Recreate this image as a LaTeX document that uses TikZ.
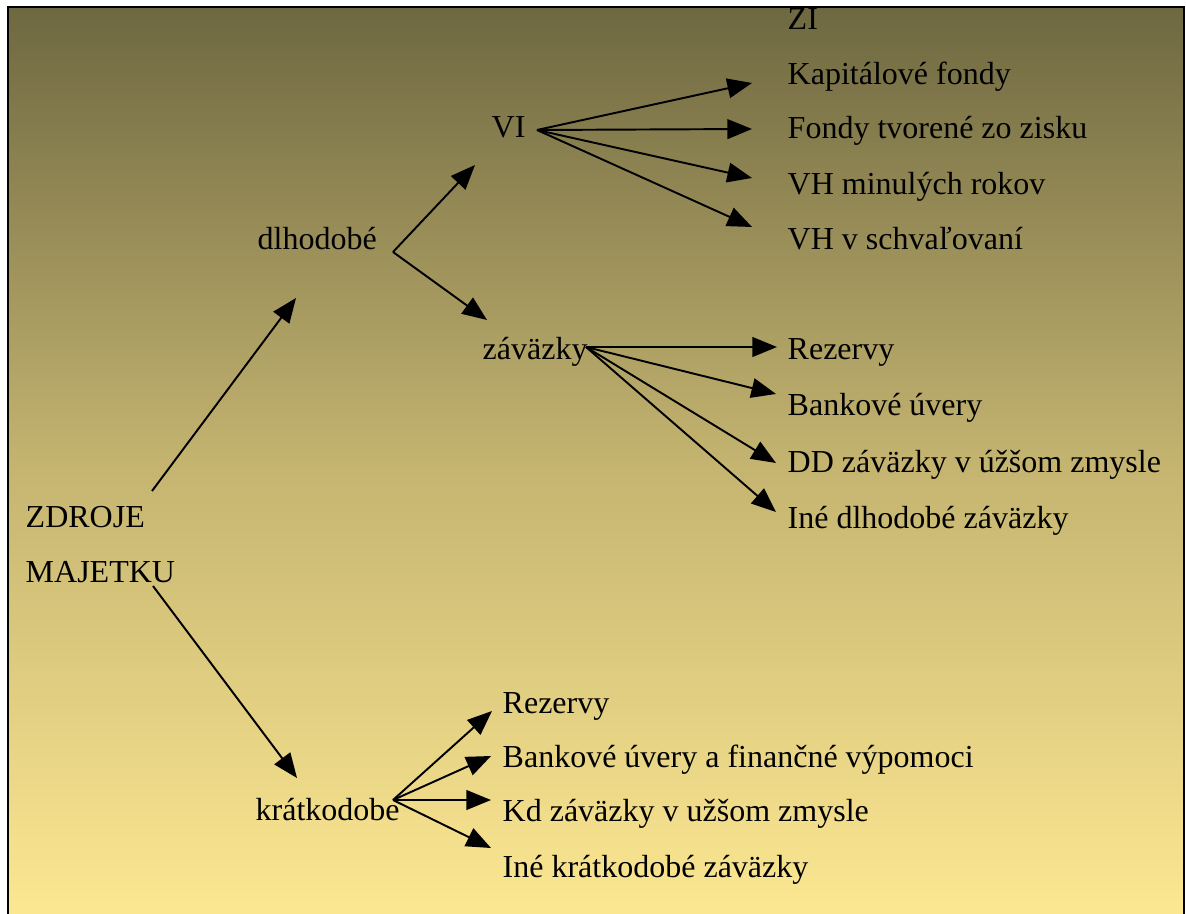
\documentclass[tikz,border=0pt]{standalone}
\usepackage{fontspec}
\setmainfont{Liberation Serif}
\usetikzlibrary{arrows.meta}
\definecolor{bgtop}{RGB}{110,104,65}
\definecolor{bgmid}{RGB}{196,180,112}
\definecolor{bgbot}{RGB}{253,232,146}
\tikzset{
  lbl/.style={anchor=base west, inner sep=0pt, font=\fontsize{9.1}{11}\selectfont},
  arr/.style={line width=0.55pt, -{Triangle[length=7pt,width=5.6pt]}},
}
\begin{document}
\begin{tikzpicture}[x=0.01cm,y=-0.01cm]
\useasboundingbox (0,0) rectangle (1186,913);
\fill[white] (0,0) rectangle (1186,913);
\begin{scope}
\clip (8,7) rectangle (1184,930);
\shade[top color=bgtop, bottom color=bgbot, middle color=bgmid] (8,7) rectangle (1184,920);
% nodes
\node[lbl] (zdroje) at (25,527) {ZDROJE};
\node[lbl] (majetku) at (25,582) {MAJETKU};
\node[lbl] (dlh) at (257,250) {dlhodobé};
\node[lbl] (kratk) at (255,820) {krátkodobe};
\node[lbl] (vi) at (491,138) {VI};
\node[lbl] (zav) at (482,360) {záväzky};
\node[lbl] (zi) at (787,30) {ZI};
\node[lbl] (kf) at (787,85) {Kapitálové fondy};
\node[lbl] (ftz) at (787,139) {Fondy tvorené zo zisku};
\node[lbl] (vhm) at (787,195) {VH minulých rokov};
\node[lbl] (vhs) at (787,250) {VH v schvaľovaní};
\node[lbl] (rez1) at (787,360) {Rezervy};
\node[lbl] (bu1) at (787,416) {Bankové úvery};
\node[lbl] (dd) at (787,472) {DD záväzky v úžšom zmysle};
\node[lbl] (ine1) at (787,528) {Iné dlhodobé záväzky};
\node[lbl] (rez2) at (502,713) {Rezervy};
\node[lbl] (bu2) at (502,767) {Bankové úvery a finančné výpomoci};
\node[lbl] (kd) at (502,821) {Kd záväzky v užšom zmysle};
\node[lbl] (ine2) at (502,877) {Iné krátkodobé záväzky};
% connector points
\coordinate (zdroje-o) at (152,491);
\coordinate (majetku-o) at (153,586);
\coordinate (dlh-i) at (296,298);
\coordinate (kratk-i) at (297,778);
\coordinate (dlh-o) at (393,252);
\coordinate (vi-i) at (475,165);
\coordinate (zav-i) at (487,320);
\coordinate (vi-o) at (537,130);
\coordinate (kf-i) at (752,83);
\coordinate (ftz-i) at (752,129);
\coordinate (vhm-i) at (752,178);
\coordinate (vhs-i) at (752,227);
\coordinate (zav-o) at (586,347);
\coordinate (rez1-i) at (777,347);
\coordinate (bu1-i) at (776,394);
\coordinate (dd-i) at (776,463);
\coordinate (ine1-i) at (776,512);
\coordinate (kratk-o) at (393,800);
\coordinate (rez2-i) at (492,711);
\coordinate (bu2-i) at (491,756);
\coordinate (kd-i) at (491,800);
\coordinate (ine2-i) at (491,848);
% connectors
\draw[arr] (zdroje-o) -- (dlh-i);
\draw[arr] (majetku-o) -- (kratk-i);
\draw[arr] (dlh-o) -- (vi-i);
\draw[arr] (dlh-o) -- (zav-i);
\foreach \t in {kf,ftz,vhm,vhs} \draw[arr] (vi-o) -- (\t-i);
\foreach \t in {rez1,bu1,dd,ine1} \draw[arr] (zav-o) -- (\t-i);
\foreach \t in {rez2,bu2,kd,ine2} \draw[arr] (kratk-o) -- (\t-i);
\end{scope}
\draw[line width=0.6pt] (8,930) -- (8,7) -- (1184,7) -- (1184,930);
\end{tikzpicture}
\end{document}
